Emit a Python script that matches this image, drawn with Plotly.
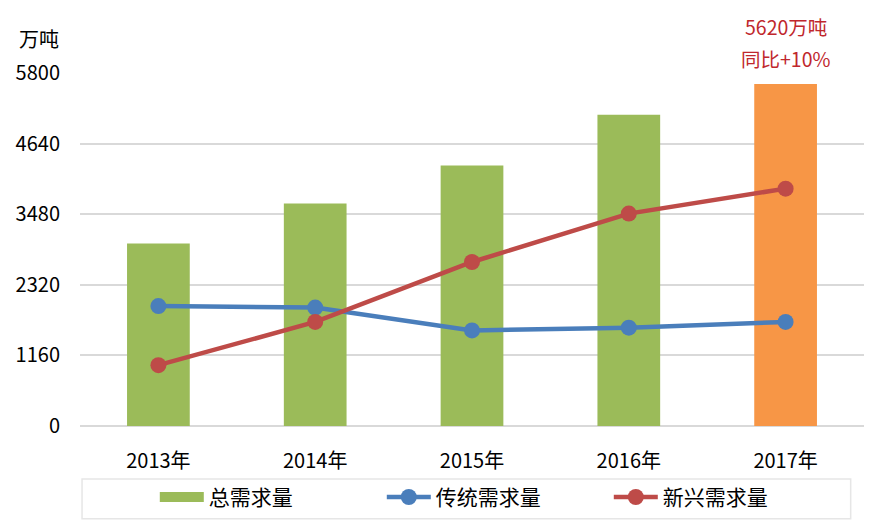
import plotly.graph_objects as go

years = ["2013年", "2014年", "2015年", "2016年", "2017年"]
total = [3000, 3655, 4280, 5115, 5620]
traditional = [1970, 1945, 1570, 1615, 1710]
emerging = [1000, 1710, 2695, 3490, 3900]
y_ticks = [0, 1160, 2320, 3480, 4640, 5800]
bar_colors = ["#9BBB59", "#9BBB59", "#9BBB59", "#9BBB59", "#F79646"]
names = ["总需求量", "传统需求量", "新兴需求量"]
unit = "万吨"
note_lines = ["5620万吨", "同比+10%"]

FONT = "Noto Sans CJK SC, Microsoft YaHei, sans-serif"

fig = go.Figure()
fig.add_trace(go.Bar(x=years, y=total, name=names[0], marker=dict(color=bar_colors, line=dict(width=0)),
                     showlegend=False))
# legend proxy for the green bar (wide rectangle swatch)
fig.add_trace(go.Scatter(x=[years[0]], y=[None], name=names[0], mode="lines",
                         line=dict(color="#9BBB59", width=12), showlegend=True))
fig.add_trace(go.Scatter(x=years, y=traditional, name=names[1], mode="lines+markers",
                         line=dict(color="#4A7EBB", width=4.5), marker=dict(size=16, color="#4A7EBB")))
fig.add_trace(go.Scatter(x=years, y=emerging, name=names[2], mode="lines+markers",
                         line=dict(color="#BE4B48", width=4.5), marker=dict(size=16, color="#BE4B48")))

fig.add_annotation(x=years[4], y=1, yref="paper", yshift=47, yanchor="middle", text=note_lines[0],
                   showarrow=False, font=dict(family=FONT, size=19.5, color="#C0272D"))
fig.add_annotation(x=years[4], y=1, yref="paper", yshift=15, yanchor="middle", text=note_lines[1],
                   showarrow=False, font=dict(family=FONT, size=19.5, color="#C0272D"))
fig.add_annotation(x=0, xref="paper", xshift=-63, xanchor="left", y=1, yref="paper", yshift=35,
                   yanchor="middle", text=unit, showarrow=False,
                   font=dict(family=FONT, size=20, color="#000000"))

# legend frame
fig.add_shape(type="rect", xref="paper", yref="paper", x0=0.0026, x1=0.983, y0=-0.263, y1=-0.150,
              line=dict(color="#E6E6E6", width=1.5), fillcolor="rgba(0,0,0,0)")

fig.update_layout(
    width=887, height=531,
    margin=dict(l=72, r=31, t=65, b=113, autoexpand=False),
    plot_bgcolor="white", paper_bgcolor="white",
    bargap=0.6, barmode="overlay",
    font=dict(family=FONT, size=20, color="#000000"),
    xaxis=dict(showgrid=False, showline=False, ticks="", tickfont=dict(size=20),
               ticklabelstandoff=21, automargin=False),
    yaxis=dict(range=[0, 5800], tickvals=y_ticks, ticktext=[str(v) for v in y_ticks],
               showgrid=True, gridcolor="#D9D9D9", gridwidth=1.5, zeroline=True,
               zerolinecolor="#D9D9D9", zerolinewidth=1.5, ticks="", ticklabelstandoff=19,
               tickfont=dict(size=20), automargin=False),
    legend=dict(orientation="h", x=0.0954, xanchor="left", yref="container", y=0.117, yanchor="top",
                bordercolor="rgba(0,0,0,0)", borderwidth=0, bgcolor="rgba(0,0,0,0)",
                entrywidth=168, itemwidth=44, font=dict(size=21), tracegroupgap=0),
)

fig.write_html("out.html")
